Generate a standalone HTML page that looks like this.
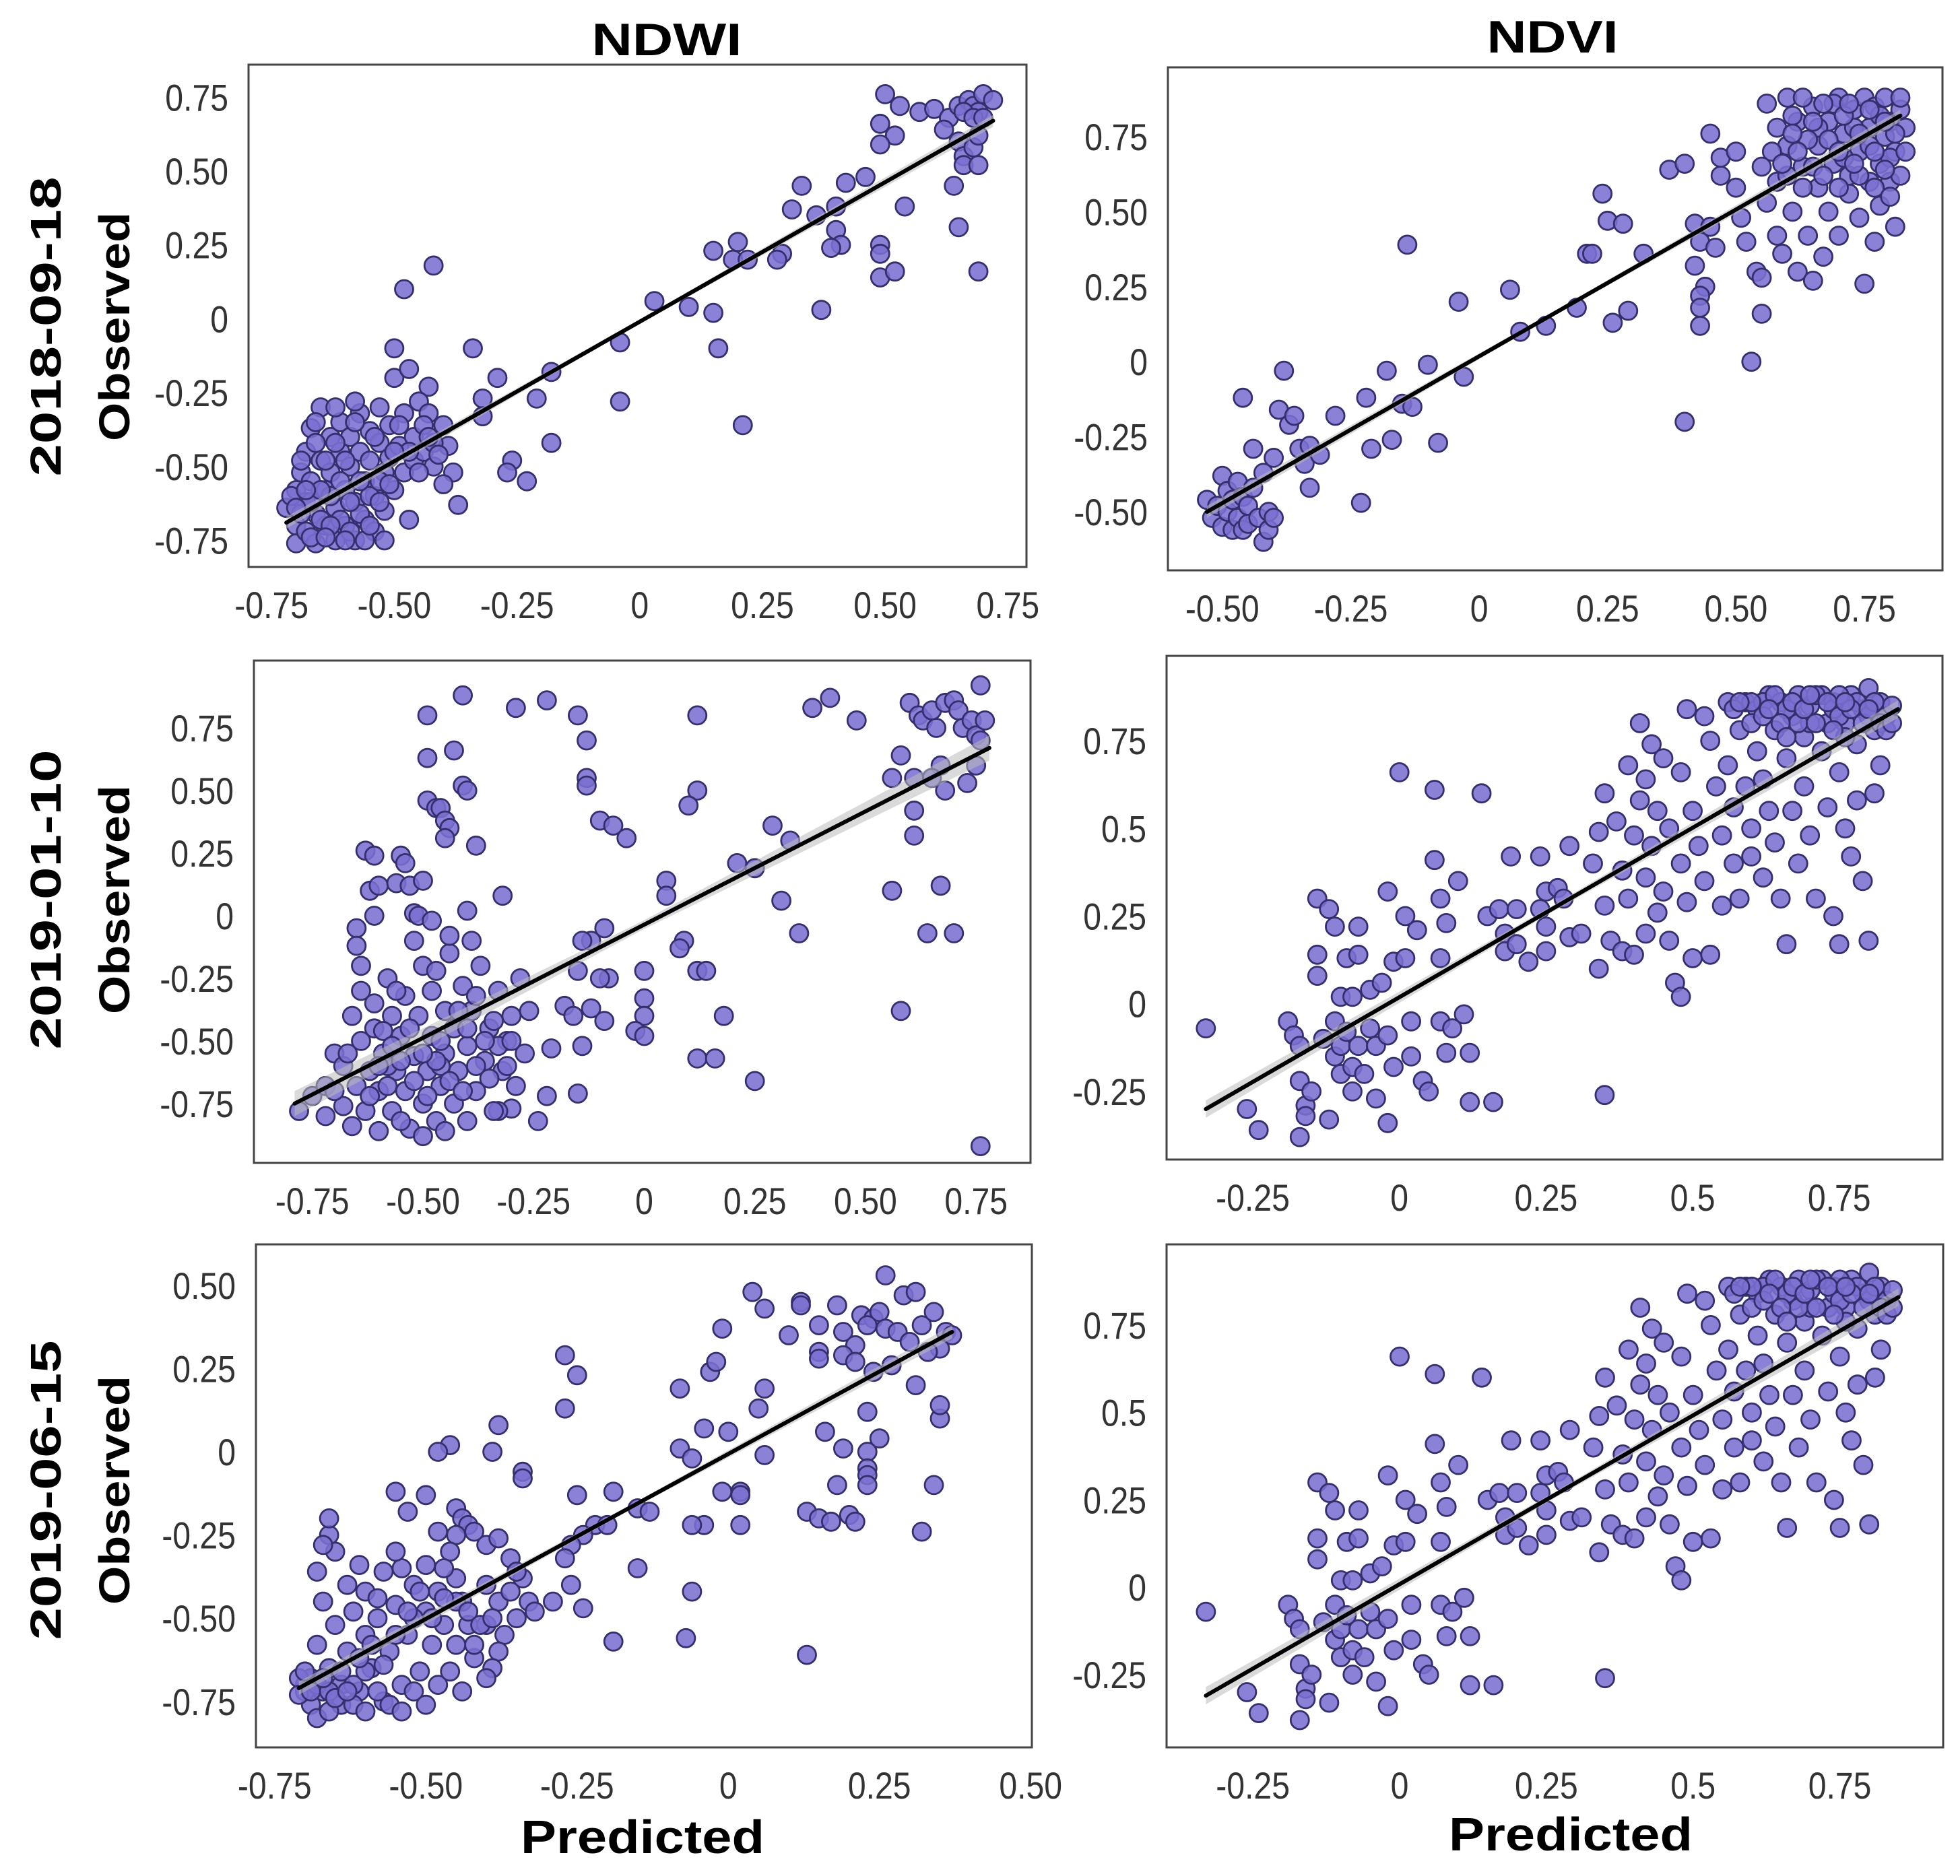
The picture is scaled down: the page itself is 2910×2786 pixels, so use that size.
<!DOCTYPE html>
<html><head><meta charset="utf-8"><style>
html,body{margin:0;padding:0;background:#fff;}
svg{display:block;}
</style></head><body>
<svg id="fig" width="2910" height="2786" viewBox="0 0 2910 2786" xmlns="http://www.w3.org/2000/svg" font-family="'Liberation Sans', sans-serif">
<rect width="2910" height="2786" fill="#fff"/>
<text x="990" y="82" font-size="68" font-weight="bold" text-anchor="middle" textLength="223" lengthAdjust="spacingAndGlyphs">NDWI</text>
<text x="2305" y="78" font-size="68" font-weight="bold" text-anchor="middle" textLength="195" lengthAdjust="spacingAndGlyphs">NDVI</text>
<g>
<text x="0" y="0" transform="translate(90,485) rotate(-90)" font-size="64" font-weight="bold" text-anchor="middle" textLength="445" lengthAdjust="spacingAndGlyphs">2018-09-18</text>
<text x="0" y="0" transform="translate(192,485) rotate(-90)" font-size="64" font-weight="bold" text-anchor="middle" textLength="340" lengthAdjust="spacingAndGlyphs">Observed</text>
</g>
<g>
<text x="0" y="0" transform="translate(90,1336) rotate(-90)" font-size="64" font-weight="bold" text-anchor="middle" textLength="445" lengthAdjust="spacingAndGlyphs">2019-01-10</text>
<text x="0" y="0" transform="translate(192,1336) rotate(-90)" font-size="64" font-weight="bold" text-anchor="middle" textLength="340" lengthAdjust="spacingAndGlyphs">Observed</text>
</g>
<g>
<text x="0" y="0" transform="translate(90,2213) rotate(-90)" font-size="64" font-weight="bold" text-anchor="middle" textLength="445" lengthAdjust="spacingAndGlyphs">2019-06-15</text>
<text x="0" y="0" transform="translate(192,2213) rotate(-90)" font-size="64" font-weight="bold" text-anchor="middle" textLength="340" lengthAdjust="spacingAndGlyphs">Observed</text>
</g>
<text x="954" y="2752" font-size="70" font-weight="bold" text-anchor="middle" textLength="362" lengthAdjust="spacingAndGlyphs">Predicted</text>
<text x="2332" y="2748" font-size="70" font-weight="bold" text-anchor="middle" textLength="362" lengthAdjust="spacingAndGlyphs">Predicted</text>
</svg>
<script>
// ---------- data ----------
const ticksA = [-0.75,-0.5,-0.25,0,0.25,0.5,0.75];
const ticksA_lbl = ["-0.75","-0.50","-0.25","0","0.25","0.50","0.75"];
const ticksB = [-0.5,-0.25,0,0.25,0.5,0.75];
const ticksB_lbl = ["-0.50","-0.25","0","0.25","0.50","0.75"];
const ticksC = [-0.25,0,0.25,0.5,0.75];
const ticksC_lbl = ["-0.25","0","0.25","0.5","0.75"];
const ticksD = [-0.75,-0.5,-0.25,0,0.25,0.5];
const ticksD_lbl = ["-0.75","-0.50","-0.25","0","0.25","0.50"];
const ticksE = [-0.75,-0.5,-0.25,0,0.25,0.5];
const ticksE_lbl = ["-0.75","-0.50","-0.25","0","0.25","0.50"];

const p1 = [[0.50,0.76],[0.53,0.72],[0.57,0.70],[0.60,0.71],[0.63,0.68],[0.65,0.72],[0.67,0.74],[0.68,0.72],[0.69,0.70],[0.70,0.76],[0.72,0.74],[0.66,0.70],[0.68,0.68],[0.70,0.68],[0.49,0.66],[0.52,0.62],[0.49,0.59],[0.62,0.64],[0.65,0.60],[0.66,0.55],[0.68,0.58],[0.69,0.62],[0.66,0.52],[0.69,0.52],[0.64,0.45],[0.65,0.31],[0.69,0.16],[0.54,0.38],[0.46,0.48],[0.42,0.46],[0.33,0.45],[0.31,0.37],[0.36,0.35],[0.40,0.38],[0.40,0.30],[0.41,0.25],[0.39,0.24],[0.49,0.25],[0.49,0.22],[0.49,0.14],[0.52,0.16],[0.29,0.22],[0.28,0.20],[0.20,0.26],[0.15,0.23],[0.19,0.20],[0.22,0.20],[0.37,0.03],[0.10,0.04],[0.15,0.02],[0.03,0.06],[0.16,-0.10],[-0.04,-0.08],[-0.04,-0.28],[0.21,-0.36],[-0.18,-0.18],[-0.21,-0.27],[-0.18,-0.42],[-0.26,-0.48],[-0.27,-0.52],[-0.23,-0.55],[-0.32,-0.27],[-0.32,-0.33],[-0.29,-0.20],[-0.34,-0.10],[-0.43,-0.23],[-0.42,0.18],[-0.48,0.10],[-0.50,-0.10],[-0.50,-0.20],[-0.47,-0.17],[-0.45,-0.28],[-0.43,-0.32],[-0.40,-0.36],[-0.39,-0.43],[-0.38,-0.52],[-0.37,-0.63],[-0.40,-0.56],[-0.47,-0.68],
[-0.72,-0.64],[-0.70,-0.58],[-0.70,-0.70],[-0.70,-0.76],[-0.69,-0.52],[-0.68,-0.45],[-0.68,-0.62],[-0.68,-0.72],[-0.67,-0.37],[-0.67,-0.55],[-0.66,-0.66],[-0.66,-0.76],[-0.65,-0.30],[-0.65,-0.48],[-0.64,-0.58],[-0.64,-0.70],[-0.63,-0.40],[-0.63,-0.52],[-0.62,-0.64],[-0.62,-0.75],[-0.61,-0.35],[-0.61,-0.45],[-0.60,-0.58],[-0.60,-0.70],[-0.59,-0.40],[-0.59,-0.50],[-0.58,-0.62],[-0.58,-0.75],[-0.57,-0.32],[-0.57,-0.45],[-0.56,-0.55],[-0.56,-0.68],[-0.55,-0.38],[-0.55,-0.48],[-0.54,-0.60],[-0.54,-0.72],[-0.53,-0.30],[-0.53,-0.42],[-0.52,-0.52],[-0.52,-0.65],[-0.51,-0.36],[-0.51,-0.47],[-0.50,-0.58],[-0.49,-0.43],[-0.48,-0.52],[-0.48,-0.32],[-0.46,-0.40],[-0.46,-0.48],[-0.44,-0.36],[-0.44,-0.45],[-0.42,-0.42],[-0.42,-0.50],[-0.66,-0.42],[-0.62,-0.30],[-0.58,-0.35],[-0.69,-0.66],[-0.67,-0.74],[-0.65,-0.68],[-0.63,-0.60],[-0.61,-0.68],[-0.59,-0.72],[-0.57,-0.66],[-0.55,-0.60],[-0.53,-0.55],[-0.56,-0.75],[-0.60,-0.48],[-0.64,-0.48],[-0.52,-0.75],
[-0.71,-0.60],[-0.69,-0.48],[-0.67,-0.62],[-0.65,-0.58],[-0.63,-0.70],[-0.61,-0.55],[-0.59,-0.62],[-0.57,-0.55],[-0.55,-0.70],[-0.53,-0.62],[-0.51,-0.56],[-0.49,-0.36],[-0.47,-0.45],[-0.45,-0.52],[-0.43,-0.40],[-0.41,-0.46],[-0.66,-0.35],[-0.62,-0.42],[-0.58,-0.28],[-0.54,-0.40],[-0.50,-0.45],[-0.60,-0.75],[-0.64,-0.74],[-0.68,-0.58],[-0.70,-0.64]];
const p1_fitX = [-0.72,0.72];
const p1_fitY = [-0.69,0.67];

const p2 = [[-0.53,-0.46],[-0.52,-0.52],[-0.51,-0.48],[-0.50,-0.38],[-0.50,-0.55],[-0.49,-0.43],[-0.49,-0.50],[-0.48,-0.46],[-0.48,-0.56],[-0.47,-0.40],[-0.47,-0.52],[-0.46,-0.45],[-0.46,-0.56],[-0.45,-0.48],[-0.45,-0.54],[-0.44,-0.42],[-0.43,-0.52],[-0.42,-0.60],[-0.41,-0.56],[-0.41,-0.50],[-0.40,-0.52],[-0.40,-0.32],[-0.42,-0.37],[-0.46,-0.12],[-0.44,-0.29],[-0.38,-0.03],[-0.39,-0.16],[-0.37,-0.21],[-0.36,-0.18],[-0.35,-0.29],[-0.33,-0.28],[-0.34,-0.34],[-0.31,-0.31],[-0.33,-0.42],[-0.28,-0.18],[-0.22,-0.12],[-0.21,-0.29],[-0.23,-0.47],[-0.18,-0.03],[-0.17,-0.26],[-0.15,-0.14],[-0.13,-0.15],[-0.14,0.39],[-0.10,-0.01],[-0.08,-0.27],[-0.04,0.20],[-0.03,-0.05],[0.06,0.24],[0.08,0.10],[0.13,0.12],[0.19,0.18],[0.21,0.36],[0.22,0.36],[0.24,0.56],[0.25,0.47],[0.28,0.46],[0.26,0.13],[0.29,0.17],[0.32,0.36],[0.37,0.64],[0.40,0.66],[0.40,-0.20],[0.42,0.46],[0.43,0.40],[0.42,0.32],[0.44,0.25],[0.43,0.22],[0.43,0.18],[0.43,0.12],[0.45,0.45],[0.46,0.38],[0.45,0.76],[0.47,0.62],[0.47,0.68],[0.50,0.70],[0.50,0.58],[0.51,0.48],[0.52,0.40],[0.53,0.00],[0.54,0.30],[0.55,0.16],[0.55,0.28],[0.55,0.65],[0.56,0.53],[0.56,0.86],[0.58,0.42],[0.58,0.60],[0.59,0.36],[0.60,0.88],[0.60,0.72],[0.61,0.50],[0.62,0.30],[0.62,0.80],[0.63,0.65],[0.64,0.42],[0.65,0.27],[0.65,0.85],[0.66,0.58],[0.66,0.72],[0.67,0.35],[0.68,0.80],[0.68,0.50],[0.69,0.66],[0.70,0.42],[0.70,0.88],[0.71,0.76],[0.72,0.56],[0.72,0.62],[0.73,0.84],[0.74,0.70],[0.74,0.48],[0.75,0.26],[0.75,0.88],[0.76,0.60],[0.76,0.78],[0.77,0.40],[0.77,0.85],[0.78,0.66],[0.78,0.52],[0.79,0.75],[0.79,0.88],[0.80,0.60],[0.80,0.80],[0.81,0.70],[0.81,0.45],[0.82,0.84],[0.83,0.78],[0.58,0.78],[0.60,0.62],[0.63,0.88],[0.66,0.78],[0.69,0.86],[0.71,0.68],[0.73,0.78],[0.76,0.72],[0.78,0.82],[0.80,0.68],[0.57,0.70],[0.61,0.82],[0.64,0.74],[0.67,0.86],[0.70,0.58],[0.74,0.62],[0.77,0.58],[0.80,0.55],[0.82,0.62],
[0.62,0.70],[0.65,0.65],[0.68,0.74],[0.71,0.82],[0.74,0.76],[0.77,0.70],[0.79,0.64],[0.81,0.76],[0.83,0.70],[0.59,0.66],[0.63,0.58],[0.67,0.62],[0.70,0.70],[0.73,0.66],[0.76,0.84],[0.79,0.80],[0.61,0.76],[0.65,0.80],[0.72,0.86],[0.82,0.88]];
const p2_fitX = [-0.53,0.82];
const p2_fitY = [-0.50,0.82];

const p3 = [[-0.49,0.80],[-0.41,0.88],[-0.29,0.83],[-0.22,0.86],[-0.15,0.80],[-0.13,0.70],[-0.13,0.55],[-0.13,0.52],[-0.49,0.63],[-0.43,0.66],[-0.41,0.52],[-0.40,0.50],[-0.49,0.46],[-0.47,0.43],[-0.46,0.43],[-0.45,0.38],[-0.44,0.35],[-0.45,0.31],[-0.38,0.28],[-0.10,0.38],[-0.07,0.36],[-0.04,0.31],[0.12,0.80],[0.12,0.50],[0.10,0.44],[0.38,0.83],[0.42,0.87],[0.48,0.78],[0.58,0.64],[0.56,0.55],[0.61,0.42],[0.61,0.32],[0.60,0.85],[0.62,0.80],[0.63,0.78],[0.65,0.82],[0.66,0.75],[0.68,0.85],[0.70,0.86],[0.71,0.82],[0.72,0.75],[0.74,0.78],[0.75,0.72],[0.76,0.92],[0.77,0.78],[0.76,0.70],[0.75,0.60],[0.73,0.53],[0.67,0.60],[0.65,0.55],[0.68,0.50],[0.61,0.55],[0.67,0.12],[0.56,0.10],[0.64,-0.07],[0.70,-0.07],[0.58,-0.38],[0.76,-0.92],[0.29,0.36],[0.33,0.30],[0.21,0.21],[0.25,0.19],[0.31,0.06],[0.35,-0.07],[0.05,0.14],[0.05,0.08],[0.09,-0.10],[0.08,-0.13],[0.12,-0.22],[0.14,-0.22],[0.18,-0.40],[0.12,-0.57],[0.16,-0.57],[0.25,-0.66],[0.00,-0.22],[0.00,-0.33],[0.00,-0.40],[-0.02,-0.46],[0.00,-0.48],[-0.08,-0.25],[-0.10,-0.25],[-0.09,-0.05],[-0.12,-0.10],[-0.14,-0.10],[-0.15,-0.22],[-0.18,-0.36],[-0.16,-0.40],[-0.12,-0.37],[-0.09,-0.42],[-0.14,-0.52],[-0.21,-0.53],[-0.22,-0.72],[-0.15,-0.71],[-0.24,-0.82],[-0.30,-0.77],[-0.33,-0.78],
[-0.78,-0.78],[-0.75,-0.72],[-0.72,-0.68],[-0.72,-0.80],[-0.70,-0.55],[-0.68,-0.76],[-0.68,-0.60],[-0.66,-0.40],[-0.66,-0.84],[-0.65,-0.68],[-0.64,-0.30],[-0.64,-0.50],[-0.63,-0.78],[-0.62,-0.62],[-0.61,-0.35],[-0.61,-0.45],[-0.60,-0.86],[-0.60,-0.70],[-0.59,-0.55],[-0.58,-0.25],[-0.57,-0.40],[-0.57,-0.78],[-0.56,-0.62],[-0.55,-0.48],[-0.54,-0.32],[-0.54,-0.70],[-0.53,-0.85],[-0.52,-0.56],[-0.51,-0.40],[-0.50,-0.20],[-0.50,-0.75],[-0.49,-0.62],[-0.48,-0.48],[-0.48,-0.30],[-0.47,-0.82],[-0.46,-0.68],[-0.45,-0.55],[-0.45,-0.38],[-0.44,-0.15],[-0.43,-0.75],[-0.43,-0.45],[-0.42,-0.62],[-0.41,-0.28],[-0.40,-0.82],[-0.40,-0.52],[-0.39,-0.38],[-0.38,-0.70],[-0.37,-0.20],[-0.36,-0.58],[-0.35,-0.45],[-0.34,-0.78],[-0.33,-0.30],[-0.32,-0.62],[-0.31,-0.50],[-0.30,-0.40],[-0.29,-0.68],[-0.28,-0.25],[-0.27,-0.55],[-0.26,-0.38],[-0.65,-0.05],[-0.65,-0.12],[-0.64,-0.20],[-0.63,0.26],[-0.61,0.24],[-0.62,0.10],[-0.60,0.12],[-0.56,0.13],[-0.55,0.24],[-0.54,0.21],[-0.53,0.12],[-0.50,0.14],[-0.61,0.00],[-0.52,0.01],[-0.51,0.00],[-0.48,-0.02],[-0.40,0.02],[-0.39,-0.10],[-0.32,0.08],[-0.47,-0.22],[-0.52,-0.10],[-0.44,-0.08],[-0.56,-0.30],[-0.59,-0.46],[-0.67,-0.55],[-0.70,-0.70],[-0.55,-0.82],[-0.50,-0.88],[-0.45,-0.86],[-0.58,-0.60],[-0.46,-0.60],[-0.35,-0.65],[-0.40,-0.45],[-0.33,-0.52],
[-0.62,-0.72],[-0.58,-0.68],[-0.55,-0.58],[-0.52,-0.66],[-0.49,-0.72],[-0.47,-0.58],[-0.44,-0.66],[-0.41,-0.70],[-0.38,-0.60],[-0.36,-0.50],[-0.34,-0.42],[-0.31,-0.60],[-0.60,-0.60],[-0.57,-0.52],[-0.53,-0.45],[-0.50,-0.55],[-0.46,-0.50],[-0.42,-0.38],[-0.38,-0.32],[-0.30,-0.50]];
const p3_fitX = [-0.79,0.78];
const p3_fitY = [-0.75,0.67];

const p4 = [[-0.33,-0.07],[-0.26,-0.30],[-0.24,-0.36],[-0.19,-0.05],[-0.18,-0.09],[-0.17,-0.12],[-0.17,-0.22],[-0.16,-0.29],[-0.16,-0.32],[-0.15,-0.25],[-0.17,-0.38],[-0.14,0.30],[-0.14,0.14],[-0.14,0.08],[-0.13,-0.10],[-0.12,0.27],[-0.12,-0.33],[-0.11,0.22],[-0.11,-0.05],[-0.11,-0.15],[-0.10,0.02],[-0.10,-0.12],[-0.10,-0.20],[-0.09,0.13],[-0.09,-0.08],[-0.08,0.02],[-0.08,-0.18],[-0.08,-0.25],[-0.07,0.22],[-0.07,0.14],[-0.07,-0.12],[-0.06,-0.20],[-0.05,0.04],[-0.05,-0.07],[-0.04,-0.27],[-0.04,-0.12],[-0.03,0.06],[-0.02,0.32],[-0.02,-0.09],[-0.02,-0.34],[-0.01,-0.18],[-0.01,0.12],[0.00,0.66],[0.01,0.25],[0.01,0.13],[0.02,-0.05],[0.02,-0.15],[0.03,0.21],[0.04,-0.22],[0.05,-0.25],[0.06,0.61],[0.06,0.41],[0.07,0.30],[0.07,0.13],[0.07,-0.05],[0.08,0.23],[0.08,-0.14],[0.09,-0.07],[0.10,0.35],[0.11,-0.03],[0.12,-0.14],[0.12,-0.28],[0.14,0.60],[0.15,0.25],[0.16,-0.28],[0.17,0.27],[0.18,0.20],[0.18,0.15],[0.19,0.42],[0.20,0.27],[0.20,0.17],[0.22,0.12],[0.24,0.42],[0.24,0.27],[0.25,0.32],[0.25,0.22],[0.25,0.15],[0.27,0.33],[0.28,0.30],[0.29,0.45],[0.29,0.19],[0.31,0.20],[0.33,0.40],[0.34,0.49],[0.34,0.10],[0.35,0.60],[0.35,0.28],[0.35,-0.26],[0.36,0.18],[0.37,0.52],[0.38,0.38],[0.38,0.15],[0.39,0.68],[0.39,0.30],[0.40,0.48],[0.40,0.14],[0.41,0.80],[0.41,0.58],[0.42,0.64],[0.42,0.36],[0.42,0.20],[0.43,0.74],[0.43,0.45],[0.44,0.55],[0.44,0.26],[0.45,0.32],[0.45,0.70],[0.46,0.50],[0.46,0.18],[0.47,0.06],[0.48,0.66],[0.48,0.40],[0.48,0.02],[0.49,0.84],[0.49,0.29],[0.50,0.55],[0.50,0.13],[0.51,0.45],[0.52,0.82],[0.52,0.35],[0.53,0.75],[0.53,0.14],[0.54,0.62],[0.55,0.48],[0.55,0.28],[0.56,0.86],[0.56,0.68],[0.57,0.56],[0.57,0.40],[0.58,0.78],[0.58,0.30],[0.59,0.86],[0.59,0.62],[0.60,0.50],[0.60,0.42],[0.61,0.72],[0.61,0.84],[0.62,0.64],[0.62,0.36],[0.63,0.88],[0.63,0.55],[0.64,0.78],[0.64,0.46],[0.65,0.86],[0.65,0.30],[0.66,0.70],[0.66,0.17],[0.67,0.82],[0.67,0.55],[0.68,0.88],[0.68,0.40],[0.69,0.76],[0.69,0.62],[0.70,0.85],[0.70,0.48],[0.71,0.30],[0.72,0.88],[0.72,0.72],[0.73,0.80],[0.73,0.56],[0.74,0.25],[0.74,0.86],[0.75,0.66],[0.75,0.17],[0.76,0.80],[0.76,0.50],[0.77,0.88],[0.77,0.42],[0.78,0.74],[0.78,0.58],[0.79,0.84],[0.79,0.35],[0.80,0.90],[0.80,0.18],[0.81,0.78],[0.81,0.60],[0.82,0.86],[0.82,0.68],[0.83,0.82],[0.84,0.85],[0.60,0.80],[0.66,0.84],[0.70,0.80],[0.74,0.84],[0.78,0.86],[0.62,0.86],[0.71,0.88],[0.75,0.88],[0.80,0.82],[0.57,0.84],[0.76,0.76],[0.68,0.80],[0.64,0.88],[0.82,0.80],
[0.60,0.86],[0.62,0.82],[0.65,0.80],[0.67,0.86],[0.69,0.84],[0.71,0.80],[0.73,0.86],[0.75,0.82],[0.77,0.84],[0.79,0.80],[0.81,0.86],[0.83,0.78],[0.58,0.86],[0.63,0.84],[0.70,0.88],[0.76,0.86],[0.80,0.84],[0.84,0.80],[0.66,0.76],[0.74,0.78]];
const p4_fitX = [-0.33,0.85];
const p4_fitY = [-0.30,0.84];

const p5 = [[0.26,0.53],[0.29,0.47],[0.31,0.48],[0.04,0.48],[0.06,0.43],[0.12,0.45],[0.12,0.44],[0.18,0.44],[0.22,0.41],[0.24,0.40],[0.25,0.42],[-0.01,0.37],[0.10,0.35],[0.15,0.38],[0.19,0.36],[0.21,0.32],[0.23,0.38],[0.26,0.37],[0.28,0.36],[0.30,0.33],[0.32,0.38],[0.34,0.42],[0.35,0.31],[0.36,0.36],[0.37,0.35],[0.15,0.30],[0.15,0.28],[0.19,0.29],[0.21,0.27],[0.24,0.24],[0.27,0.26],[0.31,0.20],[0.33,0.30],[0.35,0.10],[0.35,0.14],[-0.27,0.29],[-0.25,0.23],[-0.27,0.13],[-0.08,0.19],[-0.03,0.24],[-0.02,0.27],[0.06,0.19],[0.05,0.13],[0.16,0.06],[-0.04,0.07],[0.00,0.06],[0.23,0.12],[0.25,0.04],[0.19,0.01],[0.23,0.00],[-0.08,0.01],[-0.06,-0.02],[0.06,-0.01],[0.23,-0.05],[0.23,-0.07],[0.18,-0.10],[0.23,-0.10],[0.34,-0.10],[0.32,-0.24],[0.13,-0.18],[0.15,-0.20],[0.17,-0.21],[0.20,-0.19],[0.21,-0.21],[-0.01,-0.12],[0.02,-0.12],[0.02,-0.13],[-0.04,-0.22],[-0.06,-0.22],[0.02,-0.22],[-0.38,0.08],[-0.39,0.00],[-0.46,0.02],[-0.48,0.00],[-0.34,-0.06],[-0.34,-0.08],[-0.19,-0.12],[-0.25,-0.13],[-0.15,-0.17],[-0.13,-0.18],[-0.22,-0.22],[-0.20,-0.22],[-0.24,-0.25],[-0.26,-0.28],[-0.27,-0.32],[-0.15,-0.35],[-0.26,-0.40],[-0.24,-0.47],[-0.29,-0.45],[-0.19,-0.57],[-0.06,-0.42],[-0.07,-0.56],[0.13,-0.61],
[-0.55,-0.12],[-0.50,-0.13],[-0.53,-0.18],[-0.45,-0.17],[-0.44,-0.20],[-0.43,-0.22],[-0.42,-0.24],[-0.45,-0.25],[-0.48,-0.24],[-0.40,-0.28],[-0.38,-0.26],[-0.36,-0.32],[-0.34,-0.38],[-0.33,-0.45],[-0.32,-0.48],[-0.35,-0.50],[-0.37,-0.55],[-0.38,-0.60],[-0.39,-0.65],[-0.40,-0.68],[-0.42,-0.62],[-0.43,-0.52],[-0.44,-0.45],[-0.45,-0.38],[-0.46,-0.30],[-0.47,-0.52],[-0.48,-0.42],[-0.49,-0.58],[-0.50,-0.34],[-0.50,-0.48],[-0.51,-0.66],[-0.52,-0.40],[-0.53,-0.55],[-0.54,-0.35],[-0.54,-0.70],[-0.55,-0.46],[-0.56,-0.60],[-0.57,-0.36],[-0.57,-0.75],[-0.58,-0.50],[-0.59,-0.65],[-0.60,-0.42],[-0.60,-0.55],[-0.61,-0.34],[-0.61,-0.72],[-0.62,-0.48],[-0.63,-0.60],[-0.63,-0.40],[-0.64,-0.76],[-0.65,-0.52],[-0.65,-0.30],[-0.66,-0.65],[-0.66,-0.25],[-0.67,-0.45],[-0.67,-0.72],[-0.68,-0.36],[-0.68,-0.58],[-0.69,-0.68],[-0.69,-0.76],[-0.70,-0.70],[-0.70,-0.72],[-0.71,-0.68],[-0.71,-0.73],[-0.68,-0.80],[-0.66,-0.78],[-0.64,-0.70],[-0.62,-0.76],[-0.60,-0.78],[-0.58,-0.72],[-0.56,-0.76],[-0.54,-0.78],[-0.52,-0.72],[-0.50,-0.76],[-0.48,-0.70],[-0.46,-0.66],[-0.44,-0.72],[-0.42,-0.58],[-0.40,-0.52],[-0.38,-0.45],[-0.36,-0.42],[-0.70,-0.66],[-0.68,-0.70],[-0.66,-0.72],[-0.64,-0.66],[-0.62,-0.70],[-0.60,-0.66],[-0.67,-0.28],[-0.66,-0.20],[-0.55,-0.30],[-0.45,-0.45],[-0.40,-0.40],[-0.35,-0.36],[-0.58,-0.44],[-0.52,-0.50],[-0.47,-0.35],
[-0.69,-0.72],[-0.67,-0.68],[-0.65,-0.74],[-0.63,-0.72],[-0.61,-0.62],[-0.59,-0.58],[-0.57,-0.64],[-0.55,-0.55],[-0.53,-0.48],[-0.51,-0.42],[-0.49,-0.50],[-0.47,-0.44],[-0.45,-0.58],[-0.43,-0.48],[-0.41,-0.52],[-0.39,-0.50]];
const p5_fitX = [-0.71,0.37];
const p5_fitY = [-0.71,0.36];

const p6 = p4;
const p6_fitX = [-0.33,0.85];
const p6_fitY = [-0.31,0.83];

// ---------- layout ----------
const panels = [
 {name:'ndwi-2018-09-18', box:[369,96,1524,842], xd:[-0.797,0.788], yd:[-0.84,0.86], xt:ticksA, xl:ticksA_lbl, yt:ticksA, yl:ticksA_lbl, pts:p1, fx:p1_fitX, fy:p1_fitY, band:0.02},
 {name:'ndvi-2018-09-18', box:[1734,100,2884,847], xd:[-0.606,0.902], yd:[-0.695,0.981], xt:ticksB, xl:ticksB_lbl, yt:ticksB, yl:ticksB_lbl, pts:p2, fx:p2_fitX, fy:p2_fitY, band:0.02},
 {name:'ndwi-2019-01-10', box:[377,981,1530,1727], xd:[-0.882,0.873], yd:[-0.987,1.019], xt:ticksA, xl:ticksA_lbl, yt:ticksA, yl:ticksA_lbl, pts:p3, fx:p3_fitX, fy:p3_fitY, band:0.05},
 {name:'ndvi-2019-01-10', box:[1732,974,2884,1722], xd:[-0.397,0.926], yd:[-0.444,0.992], xt:ticksC, xl:ticksC_lbl, yt:ticksC, yl:ticksC_lbl, pts:p4, fx:p4_fitX, fy:p4_fitY, band:0.025},
 {name:'ndwi-2019-06-15', box:[380,1848,1532,2595], xd:[-0.781,0.502], yd:[-0.888,0.623], xt:ticksD, xl:ticksD_lbl, yt:ticksE, yl:ticksE_lbl, pts:p5, fx:p5_fitX, fy:p5_fitY, band:0.02},
 {name:'ndvi-2019-06-15', box:[1732,1848,2885,2595], xd:[-0.397,0.926], yd:[-0.458,0.981], xt:ticksC, xl:ticksC_lbl, yt:ticksC, yl:ticksC_lbl, pts:p6, fx:p6_fitX, fy:p6_fitY, band:0.025}
];
const NS='http://www.w3.org/2000/svg';
const svg=document.getElementById('fig');
function mk(tag,attrs,parent){const e=document.createElementNS(NS,tag);for(const k in attrs)e.setAttribute(k,attrs[k]);(parent||svg).appendChild(e);return e;}
function squeeze(t){try{const w=t.getComputedTextLength();if(w>0){t.setAttribute('textLength',(w*0.86).toFixed(1));t.setAttribute('lengthAdjust','spacingAndGlyphs');}}catch(e){}}

panels.forEach(p=>{
  const [L,T,R,B]=p.box;
  const sx=v=>L+(v-p.xd[0])/(p.xd[1]-p.xd[0])*(R-L);
  const sy=v=>B-(v-p.yd[0])/(p.yd[1]-p.yd[0])*(B-T);
  const g=mk('g',{});
  
  
  const clipId='clip-'+p.name;
  const defs=mk('defs',{},g);
  const cp=mk('clipPath',{id:clipId},defs);
  mk('rect',{x:L,y:T,width:R-L,height:B-T},cp);
  const pg=mk('g',{'clip-path':'url(#'+clipId+')'},g);
  
  
  p.pts.forEach(d=>{
    const c=mk('circle',{cx:sx(d[0]).toFixed(1),cy:sy(d[1]).toFixed(1),r:13.5,fill:'#7b6fd0','fill-opacity':0.88,stroke:'#352f6e','stroke-width':2.8},pg);
    
    
  });
  const x0=p.fx[0],x1=p.fx[1],y0=p.fy[0],y1=p.fy[1],xm=(x0+x1)/2,ym=(y0+y1)/2,w=p.band;
  const band=mk('polygon',{points:[[x0,y0+w],[xm,ym+w*0.35],[x1,y1+w],[x1,y1-w],[xm,ym-w*0.35],[x0,y0-w]].map(q=>sx(q[0]).toFixed(1)+','+sy(q[1]).toFixed(1)).join(' '),fill:'#bbbbbb','fill-opacity':0.55},g);
  
  
  const ln=mk('line',{x1:sx(x0),y1:sy(y0),x2:sx(x1),y2:sy(y1),stroke:'#000','stroke-width':6,'stroke-linecap':'round'},g);
  
  
  const fr=mk('rect',{x:L,y:T,width:R-L,height:B-T,fill:'none',stroke:'#444','stroke-width':3},g);
  
  
  p.xt.forEach((v,i)=>{
    const t=mk('text',{x:sx(v).toFixed(1),y:B+76,'font-size':56,'text-anchor':'middle',fill:'#333'},g);
    t.textContent=p.xl[i];
    
    
    squeeze(t);
  });
  p.yt.forEach((v,i)=>{
    const t=mk('text',{x:L-30,y:(sy(v)+20).toFixed(1),'font-size':56,'text-anchor':'end',fill:'#333'},g);
    t.textContent=p.yl[i];
    
    
    squeeze(t);
  });
});
</script>
</body></html>
